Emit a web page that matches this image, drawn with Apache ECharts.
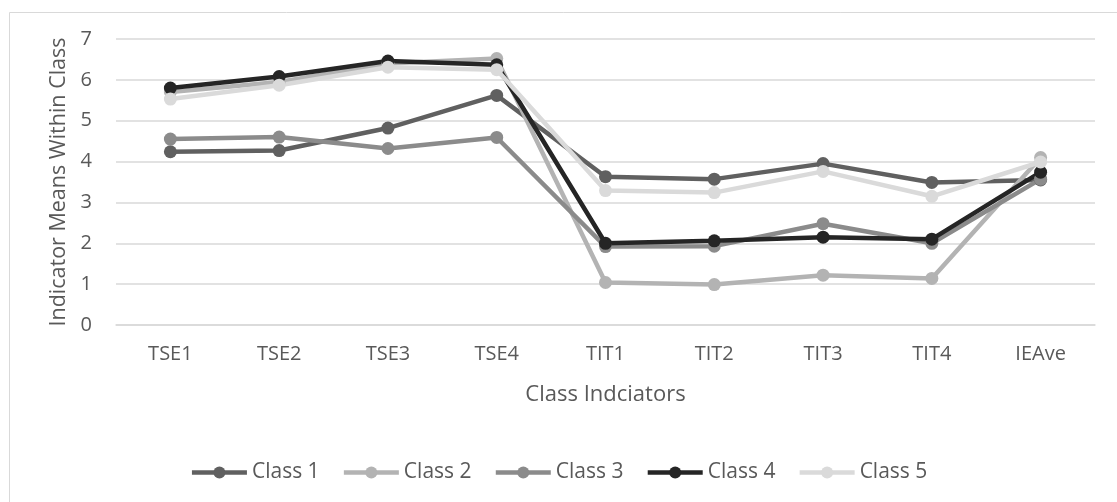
<!DOCTYPE html>
<html>
<head>
<meta charset="utf-8">
<script src="https://cdn.jsdelivr.net/npm/echarts@6/dist/echarts.min.js"></script>
<style>html,body{margin:0;padding:0;background:#fff}#c{width:1117px;height:502px}</style>
</head>
<body>
<div id="c"></div>
<script>
const categories = ['TSE1','TSE2','TSE3','TSE4','TIT1','TIT2','TIT3','TIT4','IEAve'];
const seriesNames = ['Class 1','Class 2','Class 3','Class 4','Class 5'];
const class1 = [4.24, 4.27, 4.82, 5.62, 3.63, 3.57, 3.95, 3.49, 3.55];
const class2 = [5.70, 5.95, 6.40, 6.52, 1.04, 0.99, 1.22, 1.14, 4.10];
const class3 = [4.55, 4.60, 4.32, 4.59, 1.92, 1.93, 2.48, 2.00, 3.57];
const class4 = [5.80, 6.08, 6.46, 6.37, 2.00, 2.06, 2.15, 2.10, 3.74];
const class5 = [5.53, 5.87, 6.31, 6.25, 3.29, 3.24, 3.76, 3.15, 3.99];
const yTicks = [0, 7, 1];
const colors = ['#606060', '#b3b3b3', '#8b8b8b', '#252525', '#dadada'];
const data = [class1, class2, class3, class4, class5];
const FONT = 'Open Sans';

const chart = echarts.init(document.getElementById('c'));
chart.setOption({
  animation: false,
  backgroundColor: '#fff',
  graphic: [{
    type: 'rect', left: 7, top: 10,
    shape: { width: 1200, height: 600 },
    style: { fill: 'none', stroke: '#d9d9d9', lineWidth: 1 },
    silent: true, z: -1
  }],
  grid: { left: 116, right: 22, top: 39, bottom: 177 },
  legend: {
    data: seriesNames,
    top: 457,
    left: 'center',
    itemWidth: 55,
    itemHeight: 15,
    itemGap: 22,
    lineStyle: { width: 4.5 },
    textStyle: { color: '#595959', fontSize: 21, fontFamily: FONT, padding: [0, 0, 0, 0] }
  },
  xAxis: {
    type: 'category',
    data: categories,
    boundaryGap: true,
    name: 'Class Indciators',
    nameLocation: 'middle',
    nameGap: 59,
    nameTextStyle: { color: '#595959', fontSize: 22, fontFamily: FONT },
    axisLine: { lineStyle: { color: '#d9d9d9', width: 1.5 } },
    axisTick: { show: false },
    axisLabel: { color: '#595959', fontSize: 20, fontFamily: FONT, margin: 19 }
  },
  yAxis: {
    type: 'value',
    min: yTicks[0], max: yTicks[1], interval: yTicks[2],
    name: 'Indicator Means Within Class',
    nameLocation: 'middle',
    nameGap: 45,
    nameTextStyle: { color: '#595959', fontSize: 21.5, fontFamily: FONT },
    axisLine: { show: false },
    axisTick: { show: false },
    axisLabel: { color: '#595959', fontSize: 20, fontFamily: FONT, margin: 24 },
    splitLine: { lineStyle: { color: '#d9d9d9', width: 1.5 } }
  },
  series: seriesNames.map((n, i) => ({
    name: n,
    type: 'line',
    data: data[i],
    symbol: 'circle',
    symbolSize: 13,
    color: colors[i],
    lineStyle: { width: 4.5, color: colors[i] },
    itemStyle: { color: colors[i] }
  }))
});
</script>
</body>
</html>
